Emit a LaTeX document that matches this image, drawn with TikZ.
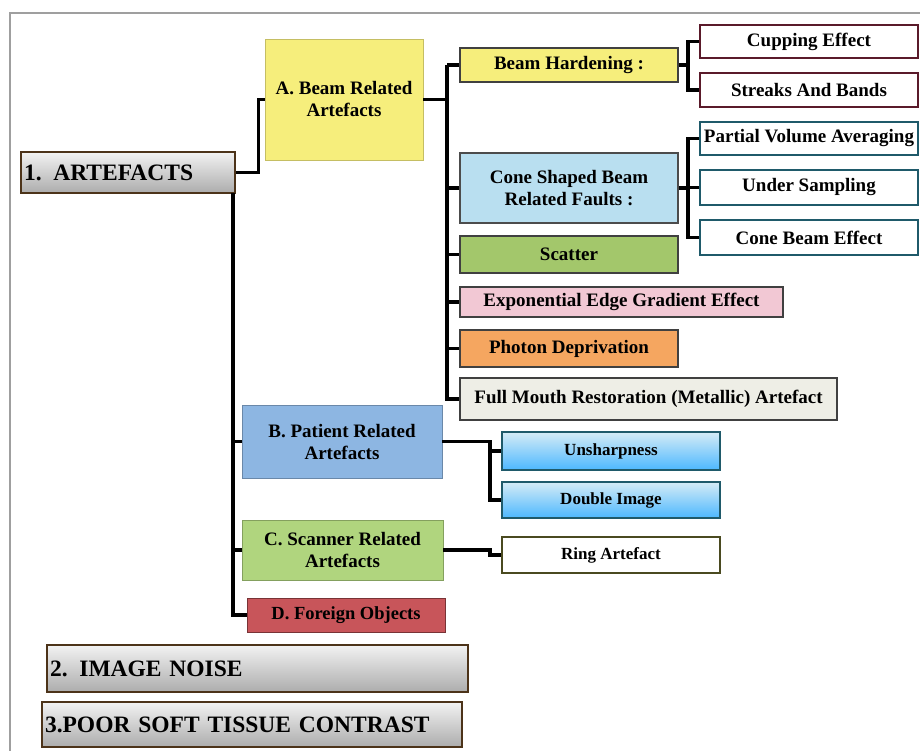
\documentclass[tikz,border=0pt]{standalone}
\usepackage{fontspec}
\setmainfont{Liberation Serif}
\begin{document}
\begin{tikzpicture}[x=1pt,y=-1pt,
  conn/.style={line width=3.4pt,black},
  box/.style={rectangle,inner sep=1pt,align=center,line width=2.2pt,font=\fontsize{19}{22}\selectfont\bfseries},
  smallfont/.style={font=\fontsize{17}{19}\selectfont\bfseries},
  bigbox/.style={rectangle,inner xsep=2pt,line width=2.6pt,draw=brown!40!black,
     top color=gray!10,bottom color=gray!65,font=\fontsize{23.5}{25}\selectfont\bfseries},
  subbox/.style={box,fill=white,minimum width=218pt},
]
\definecolor{cyellow}{HTML}{F6EE7C}
\definecolor{cblue}{HTML}{B9DFF0}
\definecolor{cgreen}{HTML}{A3C76B}
\definecolor{cpink}{HTML}{F2C8D4}
\definecolor{corange}{HTML}{F5A660}
\definecolor{cbeige}{HTML}{EEEEE6}
\definecolor{cbblue}{HTML}{8DB6E2}
\definecolor{cgreenC}{HTML}{B0D57E}
\definecolor{cred}{HTML}{C8555A}
\definecolor{cmaroon}{HTML}{5A1A2A}
\definecolor{cteal}{HTML}{1F5A6A}
\definecolor{colive}{HTML}{4A4A20}
\useasboundingbox (0,0) rectangle (920,751);
\fill[white] (0,0) rectangle (920,751);
% frame
\draw[gray!75,line width=1.8pt] (10,751) -- (10,13) -- (920,13);

% level 0
\node[bigbox,minimum width=214pt,minimum height=41pt,text width=208pt,align=left] (art) at (128,172.5) {1. ARTEFACTS};
\node[bigbox,minimum width=421pt,minimum height=47pt,text width=415pt,align=left] (noise) at (257.5,668.5) {2. IMAGE NOISE};
\node[bigbox,minimum width=420pt,minimum height=45pt,text width=414pt,align=left] (poor) at (252,724.5) {3.POOR SOFT TISSUE CONTRAST};

% level 1
\node[box,fill=cyellow,draw=cyellow!80!black,line width=0.8pt,minimum width=158pt,minimum height=121pt] (A) at (344,99.5) {A. Beam Related\\Artefacts};
\node[box,fill=cbblue,draw=cbblue!75!black,line width=0.8pt,minimum width=200pt,minimum height=73pt] (B) at (342,441.5) {B. Patient Related\\Artefacts};
\node[box,fill=cgreenC,draw=cgreenC!75!black,line width=0.8pt,minimum width=201pt,minimum height=60pt] (C) at (342.5,550) {C. Scanner Related\\Artefacts};
\node[box,fill=cred,draw=cred!60!black,line width=1pt,minimum width=198pt,minimum height=34pt,font=\fontsize{18.5}{20}\selectfont\bfseries] (D) at (346,615) {D. Foreign Objects};

% level 2 (A)
\node[box,fill=cyellow,draw=black!75,minimum width=218pt,minimum height=34pt] (BH) at (569,65) {Beam Hardening :};
\node[box,fill=cblue,draw=black!70,minimum width=218pt,minimum height=70pt] (CS) at (569,188) {Cone Shaped Beam\\Related Faults :};
\node[box,fill=cgreen,draw=black!75,minimum width=218pt,minimum height=37pt] (SC) at (569,254.5) {Scatter};
\node[box,fill=cpink,draw=black!75,minimum width=323pt,minimum height=30pt] (EX) at (621.5,302) {Exponential Edge Gradient Effect};
\node[box,fill=corange,draw=black!75,minimum width=218pt,minimum height=37pt] (PD) at (569,348.5) {Photon Deprivation};
\node[box,fill=cbeige,draw=black!75,minimum width=377pt,minimum height=42pt] (FM) at (648.5,399) {Full Mouth Restoration (Metallic) Artefact};

% level 3
\node[subbox,draw=cmaroon,minimum height=33pt] (CE) at (809,41.5) {Cupping Effect};
\node[subbox,draw=cmaroon,minimum height=34pt] (SB) at (809,90) {Streaks And Bands};
\node[subbox,draw=cteal,minimum height=33pt] (PV) at (809,138.5) {Partial Volume Averaging};
\node[subbox,draw=cteal,minimum height=35pt] (US) at (809,187.5) {Under Sampling};
\node[subbox,draw=cteal,minimum height=35pt] (CB) at (809,237.5) {Cone Beam Effect};

% B and C children
\node[box,top color=cblue!60!white,bottom color=cyan!60!blue!70,draw=cteal,minimum width=218pt,minimum height=38pt,smallfont] (UN) at (611,451) {Unsharpness};
\node[box,top color=cblue!60!white,bottom color=cyan!60!blue!70,draw=cteal,minimum width=218pt,minimum height=36pt,smallfont] (DI) at (611,500) {Double Image};
\node[subbox,draw=colive,minimum height=36pt,smallfont] (RA) at (611,555) {Ring Artefact};

% connector coordinates
\coordinate (t1) at (233,193);
\coordinate (t2) at (447,0);
\coordinate (t3) at (688,0);
\coordinate (t4) at (490,0);

% connectors
\draw[conn] (art.east) -- ++(22,0) |- (A.west);
\draw[conn] (t1) |- (D.west);
\draw[conn] (t1 |- B.west) -- (B.west);
\draw[conn] (t1 |- C.west) -- (C.west);

\draw[conn] (A.east) -- (A.east -| t2);
\draw[conn] (BH.west -| t2) |- (FM.west);
\draw[conn] (BH.west -| t2) -- (BH.west);
\draw[conn] (CS.west -| t2) -- (CS.west);
\draw[conn] (SC.west -| t2) -- (SC.west);
\draw[conn] (EX.west -| t2) -- (EX.west);
\draw[conn] (PD.west -| t2) -- (PD.west);

\draw[conn] (BH.east) -- (BH.east -| t3);
\draw[conn] (CE.west) -- (CE.west -| t3) |- (SB.west);
\draw[conn] (CS.east) -- (CS.east -| t3);
\draw[conn] (PV.west) -- (PV.west -| t3) |- (CB.west);
\draw[conn] (US.west -| t3) -- (US.west);

\draw[conn] (B.east) -- (B.east -| t4) |- (DI.west);
\draw[conn] (UN.west -| t4) -- (UN.west);
\draw[conn] (C.east) -- (C.east -| t4) |- (RA.west);
\end{tikzpicture}
\end{document}
